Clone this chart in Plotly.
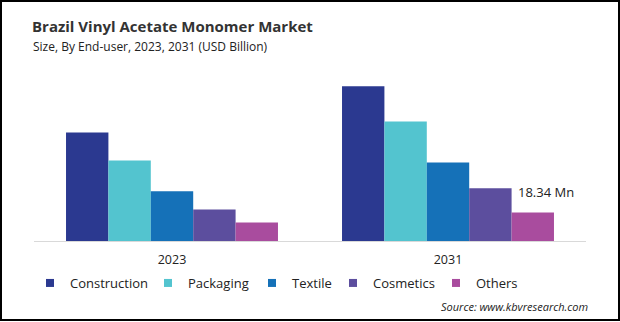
import plotly.graph_objects as go

years = ["2023", "2031"]
segments = ["Construction", "Packaging", "Textile", "Cosmetics", "Others"]
construction = [69.8, 99.6]
packaging = [51.8, 76.9]
textile = [32.0, 50.5]
cosmetics = [20.3, 34.0]
others = [11.9, 18.34]
label_text = "18.34 Mn"

colors = ["#2B3990", "#53C4CF", "#1571B8", "#5C4E9E", "#A94C9E"]
series = [construction, packaging, textile, cosmetics, others]
legend_text_x = [70, 188, 292, 373, 476]

W, H = 620, 322
ml, mr, mt, mb = 34, 34, 70, 81
pw, ph = W - ml - mr, H - mt - mb

def px(x):
    return (x - ml) / pw

def py(y):
    return (H - mb - y) / ph

fig = go.Figure()
legend_layout = {}
for i, (name, vals, c) in enumerate(zip(segments, series, colors)):
    lg = "legend" if i == 0 else f"legend{i + 1}"
    fig.add_trace(go.Bar(name=name, x=years, y=vals, marker=dict(color=c, line=dict(width=0)),
                         showlegend=False))
    fig.add_trace(go.Scatter(name=name, x=[years[0]], y=[None], mode="markers",
                             marker=dict(symbol="square", size=8, color=c), legend=lg,
                             showlegend=True, hoverinfo="skip"))
    legend_layout[lg] = dict(orientation="h", x=px(legend_text_x[i] - 40), xanchor="left",
                             y=py(283), yanchor="middle", font=dict(size=13, color="#222222"),
                             itemwidth=30, bgcolor="rgba(0,0,0,0)", borderwidth=0)

fig.update_layout(
    width=W, height=H,
    margin=dict(l=ml, r=mr, t=mt, b=mb, autoexpand=False),
    barmode="group", bargap=0.232, bargroupgap=0,
    plot_bgcolor="white", paper_bgcolor="white",
    font=dict(family="Open Sans", color="#222222"),
    showlegend=True,
    title=dict(text="<b>Brazil Vinyl Acetate Monomer Market</b>", xref="container", yref="container",
               x=32 / W, xanchor="left", y=1 - 27 / H, yanchor="middle",
               font=dict(size=15, color="#333333", family="Open Sans")),
    xaxis=dict(type="category", categoryorder="array", categoryarray=years, range=[-0.5, 1.5],
               autorange=False, showline=True, linecolor="#d9d9d9", linewidth=1,
               ticks="outside", ticklen=7, tickcolor="rgba(0,0,0,0)",
               showgrid=False, tickfont=dict(size=12.5, color="#222222")),
    yaxis=dict(range=[0, 110], autorange=False, visible=False, showgrid=False, zeroline=False),
    **legend_layout,
)

fig.add_annotation(text="Size, By End-user, 2023, 2031 (USD Billion)", xref="paper", yref="paper",
                   x=px(31), y=py(47), xanchor="left", yanchor="middle", showarrow=False,
                   font=dict(size=12, color="#222222"))
fig.add_annotation(text="<i>Source: www.kbvresearch.com</i>", xref="paper", yref="paper",
                   x=px(590), y=py(306), xanchor="right", yanchor="middle", showarrow=False,
                   font=dict(size=11, color="#222222"))
fig.add_annotation(text=label_text, x=years.index("2031"), y=others[1], xref="x", yref="y",
                   xanchor="center", yanchor="bottom", xshift=98, yshift=9, showarrow=False,
                   font=dict(size=13, color="#222222"))

fig.add_shape(type="rect", xref="paper", yref="paper", x0=px(1), x1=px(619), y0=py(320), y1=py(1),
              line=dict(color="black", width=2), fillcolor="rgba(0,0,0,0)", layer="above")

fig.write_html("out.html")
